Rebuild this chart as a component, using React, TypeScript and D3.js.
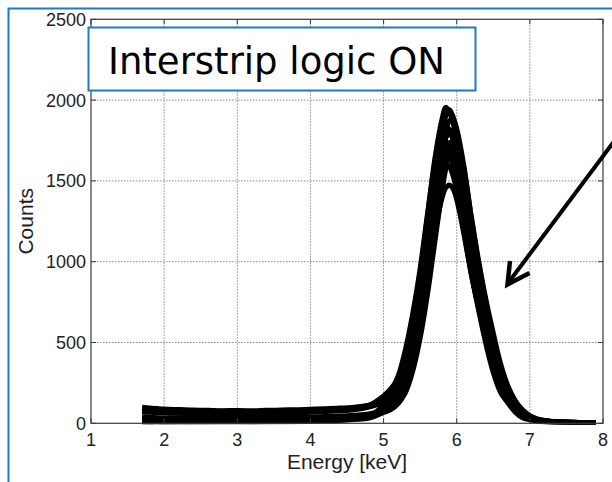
import React from "react";
import * as d3 from "d3";

// Energy grid [keV]
const energy = [1.7, 1.8, 1.9, 2.0, 2.2, 2.4, 2.6, 2.8, 3.0, 3.2, 3.4, 3.6, 3.8, 4.0, 4.2, 4.4, 4.6, 4.8,
  5.0, 5.1, 5.2, 5.3, 5.4, 5.5, 5.6, 5.7, 5.8, 5.85, 5.9, 5.95, 6.0, 6.1, 6.2, 6.3, 6.4, 6.5, 6.6, 6.7, 6.8, 6.9, 7.0, 7.1, 7.2, 7.4, 7.6, 7.8, 7.9];

// Counts per strip spectrum
const strip1 = [95, 90, 86, 84, 80, 78, 75, 74, 76, 73, 75, 77, 79, 82, 85, 90, 97, 112,
  170, 215, 275, 406, 628, 926, 1280, 1634, 1884, 1955, 1926, 1857, 1751, 1444, 1136, 867, 635, 422, 266, 163, 97, 57, 34, 22, 14, 9, 6, 4, 3];
const strip2 = [34, 30, 28, 30, 27, 29, 26, 28, 27, 29, 28, 30, 31, 33, 36, 40, 45, 55,
  83, 118, 183, 304, 511, 794, 1134, 1512, 1814, 1899, 1940, 1897, 1810, 1523, 1198, 930, 681, 470, 297, 181, 113, 63, 35, 21, 14, 7, 5, 2, 2];
const strip3 = [72, 68, 66, 64, 62, 60, 61, 58, 60, 59, 61, 63, 65, 68, 72, 77, 84, 100,
  130, 158, 210, 306, 485, 728, 1025, 1387, 1713, 1812, 1873, 1880, 1822, 1588, 1271, 990, 746, 521, 332, 200, 130, 77, 44, 26, 17, 9, 6, 4, 3];
const strip4 = [22, 20, 17, 19, 16, 18, 20, 17, 19, 21, 18, 22, 24, 26, 29, 33, 38, 50,
  90, 130, 204, 346, 562, 850, 1192, 1535, 1777, 1830, 1820, 1756, 1655, 1363, 1072, 816, 596, 395, 248, 151, 89, 51, 30, 18, 11, 6, 5, 2, 2];
const strip5 = [84, 80, 78, 76, 72, 70, 68, 69, 67, 68, 70, 72, 74, 78, 82, 86, 92, 104,
  135, 166, 223, 330, 517, 771, 1078, 1419, 1691, 1767, 1790, 1760, 1681, 1416, 1116, 868, 638, 442, 281, 173, 108, 63, 36, 22, 14, 8, 6, 4, 3];
const strip6 = [10, 8, 9, 7, 9, 8, 10, 9, 11, 10, 12, 13, 15, 17, 20, 24, 29, 38,
  75, 102, 155, 248, 418, 648, 930, 1273, 1580, 1674, 1733, 1740, 1688, 1470, 1176, 915, 689, 481, 306, 183, 121, 70, 40, 21, 13, 6, 5, 2, 2];
const strip7 = [40, 37, 35, 33, 35, 32, 34, 33, 31, 34, 35, 36, 37, 39, 42, 45, 50, 58,
  82, 118, 183, 307, 494, 744, 1042, 1339, 1550, 1596, 1587, 1531, 1443, 1189, 935, 712, 521, 345, 217, 133, 80, 46, 27, 16, 10, 6, 5, 2, 2];
const strip8 = [100, 94, 91, 88, 85, 82, 80, 78, 79, 77, 80, 82, 84, 87, 90, 94, 100, 110,
  128, 152, 197, 284, 435, 643, 894, 1173, 1395, 1457, 1475, 1451, 1385, 1167, 920, 717, 527, 366, 233, 144, 90, 53, 31, 20, 13, 8, 5, 4, 3];
const strip9 = [12, 10, 13, 11, 12, 14, 11, 13, 12, 14, 13, 15, 17, 19, 22, 26, 31, 42,
  112, 163, 262, 418, 616, 830, 1127, 1408, 1606, 1671, 1690, 1669, 1602, 1400, 1165, 930, 728, 510, 343, 208, 125, 73, 40, 22, 14, 8, 5, 3, 2];
const strip10 = [88, 85, 82, 80, 77, 75, 73, 71, 70, 72, 71, 73, 75, 78, 82, 87, 94, 110,
  158, 205, 294, 459, 683, 959, 1294, 1595, 1743, 1749, 1695, 1582, 1478, 1184, 924, 698, 489, 314, 190, 126, 68, 34, 22, 12, 8, 6, 4, 3, 3];
const strip11 = [5, 4, 6, 5, 4, 6, 5, 7, 6, 5, 7, 8, 9, 11, 14, 18, 24, 32,
  67, 85, 122, 191, 325, 527, 797, 1118, 1439, 1574, 1666, 1716, 1707, 1552, 1278, 1004, 764, 558, 369, 231, 141, 83, 48, 28, 18, 8, 5, 2, 2];

const seriesList = [strip1, strip2, strip3, strip4, strip5, strip6, strip7, strip8, strip9, strip10, strip11];

const xTicks = [1, 2, 3, 4, 5, 6, 7, 8];
const yTicks = [0, 500, 1000, 1500, 2000, 2500];

const titleText = "Interstrip logic ON";
const xLabel = "Energy [keV]";
const yLabel = "Counts";

export default function App() {
  const W = 612, H = 482;
  const left = 91, right = 603, top = 19.3, bottom = 423.3;
  const x = d3.scaleLinear().domain([1, 8]).range([left, right]);
  const y = d3.scaleLinear().domain([0, 2500]).range([bottom, top]);

  const line = d3
    .line<number>()
    .x((_, i) => x(energy[i]))
    .y((d) => y(d))
    .curve(d3.curveCatmullRom.alpha(0.5));

  const blue = "#1f78c8";
  const axisColor = "#3a3a3a";
  const gridColor = "#8a8a8a";
  const tickLen = 5;
  const tickFont = "'Liberation Sans', Arial, sans-serif";

  return (
    <svg width={W} height={H} style={{ position: "absolute", left: 0, top: 0, background: "#fff" }}>
      <defs>
        <clipPath id="plotclip">
          <rect x={left} y={top} width={right - left} height={bottom - top + 1} />
        </clipPath>
      </defs>
      <rect x={0} y={0} width={W} height={H} fill="#fff" />
      {/* outer blue frame */}
      <rect x={8.5} y={8.5} width={700} height={600} fill="none" stroke={blue} strokeWidth={2} />

      {/* grid */}
      {xTicks.slice(1, -1).map((t) => (
        <line key={"gx" + t} x1={x(t)} x2={x(t)} y1={top} y2={bottom} stroke={gridColor} strokeWidth={1} strokeDasharray="1.5,1.5" />
      ))}
      {yTicks.slice(1, -1).map((t) => (
        <line key={"gy" + t} x1={left} x2={right} y1={y(t)} y2={y(t)} stroke={gridColor} strokeWidth={1} strokeDasharray="1.5,1.5" />
      ))}

      {/* spectra */}
      <g clipPath="url(#plotclip)">
        {seriesList.map((s, i) => (
          <path key={"s" + i} d={line(s) || ""} fill="none" stroke="#000" strokeWidth={5} strokeLinejoin="round" strokeLinecap="butt" />
        ))}
      </g>

      {/* axes box */}
      <rect x={left} y={top} width={right - left} height={bottom - top} fill="none" stroke={axisColor} strokeWidth={1.2} />
      {/* ticks */}
      {xTicks.map((t) => (
        <g key={"tx" + t}>
          <line x1={x(t)} x2={x(t)} y1={bottom} y2={bottom - tickLen} stroke={axisColor} />
          <line x1={x(t)} x2={x(t)} y1={top} y2={top + tickLen} stroke={axisColor} />
          <text x={x(t)} y={446} textAnchor="middle" fontFamily={tickFont} fontSize={18} fill="#222">{t}</text>
        </g>
      ))}
      {yTicks.map((t) => (
        <g key={"ty" + t}>
          <line x1={left} x2={left + tickLen} y1={y(t)} y2={y(t)} stroke={axisColor} />
          <line x1={right} x2={right - tickLen} y1={y(t)} y2={y(t)} stroke={axisColor} />
          <text x={86} y={y(t) + 6.4} textAnchor="end" fontFamily={tickFont} fontSize={18} fill="#222">{t}</text>
        </g>
      ))}
      <text x={(left + right) / 2} y={468.5} textAnchor="middle" fontFamily={tickFont} fontSize={21} fill="#222">{xLabel}</text>
      <text transform={`translate(33, ${(top + bottom) / 2}) rotate(-90)`} textAnchor="middle" fontFamily={tickFont} fontSize={21} fill="#222">{yLabel}</text>

      {/* title box */}
      <rect x={88.5} y={27.5} width={387} height={63} fill="#fff" stroke={blue} strokeWidth={2} />
      <text x={108} y={74} fontFamily="'DejaVu Sans', Verdana, sans-serif" fontSize={37} fill="#000">{titleText}</text>

      {/* arrow */}
      <line x1={630} x2={508.5} y1={120} y2={282.5} stroke="#000" strokeWidth={4} />
      <polyline points="510,261 507.5,284.5 529.5,273" fill="none" stroke="#000" strokeWidth={4.5} strokeLinejoin="miter" />
    </svg>
  );
}
